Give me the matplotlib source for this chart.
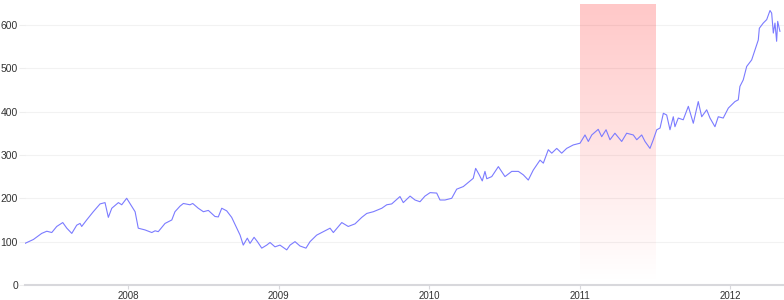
import numpy as np
import matplotlib.pyplot as plt

# readings taken off the chart: position in decimal years, price
years = [2007.313, 2007.369, 2007.424, 2007.458, 2007.491, 2007.524, 2007.564, 2007.591,
         2007.624, 2007.657, 2007.679, 2007.690, 2007.723, 2007.767, 2007.812, 2007.845,
         2007.867, 2007.890, 2007.934, 2007.956, 2007.989, 2008.011, 2008.045, 2008.066,
         2008.111, 2008.156, 2008.178, 2008.199, 2008.244, 2008.289, 2008.310, 2008.344,
         2008.366, 2008.410, 2008.428, 2008.465, 2008.499, 2008.532, 2008.576, 2008.598,
         2008.621, 2008.654, 2008.687, 2008.721, 2008.743, 2008.764, 2008.791, 2008.809,
         2008.836, 2008.858, 2008.887, 2008.920, 2008.942, 2008.975, 2009.008, 2009.053,
         2009.075, 2009.108, 2009.141, 2009.181, 2009.208, 2009.252, 2009.296, 2009.341,
         2009.363, 2009.419, 2009.462, 2009.507, 2009.552, 2009.585, 2009.629, 2009.685,
         2009.718, 2009.751, 2009.806, 2009.828, 2009.873, 2009.906, 2009.939, 2009.972,
         2010.006, 2010.050, 2010.072, 2010.105, 2010.150, 2010.183, 2010.227, 2010.293,
         2010.309, 2010.333, 2010.353, 2010.371, 2010.383, 2010.416, 2010.460, 2010.504,
         2010.549, 2010.593, 2010.626, 2010.659, 2010.692, 2010.737, 2010.759, 2010.792,
         2010.815, 2010.848, 2010.881, 2010.914, 2010.958, 2011.003, 2011.036, 2011.058,
         2011.081, 2011.124, 2011.147, 2011.176, 2011.202, 2011.235, 2011.280, 2011.313,
         2011.357, 2011.380, 2011.413, 2011.435, 2011.468, 2011.490, 2011.513, 2011.535,
         2011.557, 2011.579, 2011.601, 2011.623, 2011.634, 2011.656, 2011.689, 2011.723,
         2011.756, 2011.789, 2011.812, 2011.845, 2011.867, 2011.900, 2011.922, 2011.955,
         2011.989, 2012.033, 2012.055, 2012.066, 2012.088, 2012.111, 2012.144, 2012.166,
         2012.188, 2012.195, 2012.221, 2012.244, 2012.266, 2012.277, 2012.288, 2012.299,
         2012.310, 2012.317, 2012.332]
price = [96, 105, 119, 124, 121, 135, 144, 131,
         119, 138, 142, 135, 150, 169, 187, 190,
         156, 177, 190, 185, 200, 188, 169, 131,
         127, 121, 125, 123, 142, 150, 169, 182,
         188, 185, 188, 177, 169, 172, 158, 157,
         177, 171, 156, 131, 115, 92, 108, 96,
         110, 100, 85, 92, 98, 88, 92, 81,
         92, 100, 90, 85, 100, 115, 123, 131,
         121, 144, 135, 141, 156, 165, 169, 177,
         185, 187, 204, 190, 205, 196, 192, 205,
         213, 212, 196, 196, 200, 221, 227, 246,
         269, 254, 240, 262, 245, 250, 273, 250,
         262, 262, 254, 242, 265, 288, 281, 312,
         304, 315, 304, 315, 323, 327, 346, 331,
         346, 359, 342, 358, 335, 350, 331, 350,
         346, 335, 346, 331, 315, 335, 358, 362,
         396, 392, 358, 388, 365, 385, 381, 412,
         373, 423, 388, 404, 385, 365, 388, 385,
         408, 423, 427, 458, 473, 504, 519, 542,
         565, 592, 604, 612, 633, 627, 581, 604,
         562, 608, 585]

tick_years = [2008, 2009, 2010, 2011, 2012]
band = [2011.0, 2011.5]

plt.rcParams['font.family'] = ['Liberation Sans', 'DejaVu Sans']

fig = plt.figure(figsize=(7.84, 3.0), dpi=100)
ax = fig.add_axes([25 / 784, 15 / 300, 759 / 784, 281 / 300])

ymax = 648
xmin, xmax = 2007.313, 2012.359

# shaded band, red fading to white downwards
grad = np.zeros((256, 1, 4))
grad[:, 0, 0] = 1.0
grad[:, 0, 3] = np.linspace(0.22, 0.0, 256)
ax.imshow(grad, extent=[band[0], band[1], 0, ymax], aspect='auto',
          origin='upper', zorder=1, interpolation='bilinear')

for v in range(100, 700, 100):
    ax.axhline(v, color='#f2f2f2', lw=0.8, zorder=0)

ax.plot(years, price, color='#7b7bff', lw=0.8, zorder=3)

ax.set_xlim(xmin, xmax)
ax.set_ylim(0, ymax)

ax.set_xticks(tick_years)
ax.set_xticklabels([str(y) for y in tick_years])
ax.set_yticks(range(0, 700, 100))

for s in ['top', 'right', 'left']:
    ax.spines[s].set_visible(False)
ax.spines['bottom'].set_color('#d8d8dc')
ax.spines['bottom'].set_linewidth(1.5)

ax.tick_params(axis='x', length=3, width=0.8, color='#d8d8dc', pad=1,
               labelsize=7, labelcolor='#333333')
ax.tick_params(axis='y', length=4, width=0.8, color='#eeeeee', pad=1,
               labelsize=7.5, labelcolor='#333333')

fig.savefig('out.png', dpi=100)
